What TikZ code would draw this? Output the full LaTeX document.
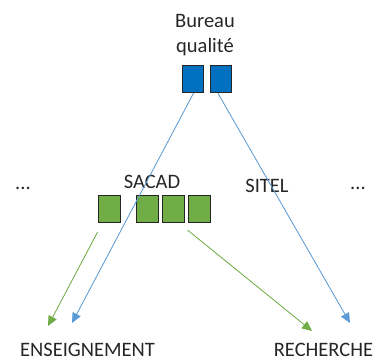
\documentclass[tikz,border=0pt]{standalone}
\usepackage{fontspec}
\setmainfont{Carlito}
\usetikzlibrary{arrows.meta}
\usetikzlibrary{positioning}

\begin{document}
\begin{tikzpicture}[x=1pt,y=-1pt,>={Triangle[length=10pt,width=9pt]},semithick]
 				 \tikzstyle{lbl}=[inner sep=0pt,anchor=base,font=\fontsize{20.5}{24}\selectfont,text=black!85]
 				 \tikzstyle{bluebox}=[draw=black!85,fill={rgb,255:red,0;green,112;blue,192},minimum width=21pt,minimum height=27pt,inner sep=0pt,thin]
 				 \tikzstyle{greenbox}=[draw=black!85,fill={rgb,255:red,112;green,173;blue,71},minimum width=22pt,minimum height=27pt,inner sep=0pt,thin]
 				 \tikzstyle{bluearrow}=[->,draw={rgb,255:red,91;green,155;blue,213},fill={rgb,255:red,91;green,155;blue,213},thick]
 				 \tikzstyle{greenarrow}=[->,draw={rgb,255:red,112;green,173;blue,71},fill={rgb,255:red,112;green,173;blue,71},thick]
 				 \useasboundingbox (0,0) rectangle (381,363);
 					 \node[lbl]          (bureau)  at (205,28)  {Bureau};
 					 \node[lbl]          (qualite) at (205,53)  {qualité};
 					 \node[bluebox]      (B1)      at (192.5,78.5) {};
 					 \node[bluebox]      (B2) [right=7pt of B1] {};
 					 \node[lbl]          (dotsL)   at (23,190)  {...};
 					 \node[lbl]          (sacad)   at (152,189) {SACAD};
 					 \node[lbl]          (sitel)   at (267,193) {SITEL};
 					 \node[lbl]          (dotsR)   at (358,190) {...};
 					 \node[greenbox]     (G1)      at (109.5,208.5) {};
 					 \node[greenbox]     (G2) [right=15pt of G1] {};
 					 \node[greenbox]     (G3) [right=4pt of G2] {};
 					 \node[greenbox]     (G4) [right=3pt of G3] {};
 					 \node[lbl] (ens)  at (87.5,357) {ENSEIGNEMENT};
 					 \node[lbl] (rech) at (323.5,357) {RECHERCHE};
 					 \coordinate (blueL)  at (72,323);
 					 \coordinate (blueR)  at (350,323);
 					 \coordinate (greenL) at (48,326);
 					 \coordinate (greenR) at (312,331);
				\draw[bluearrow] ([xshift=1pt,yshift=-1pt]B1.south) -- (blueL);
				\draw[bluearrow] ([xshift=-3pt,yshift=-1pt]B2.south) -- (blueR);
				\draw[greenarrow] ([xshift=-12pt,yshift=-10pt]G1.south) -- (greenL);
				\draw[greenarrow] ([xshift=-11pt,yshift=-8pt]G4.south) -- (greenR);
\end{tikzpicture}
\end{document}
